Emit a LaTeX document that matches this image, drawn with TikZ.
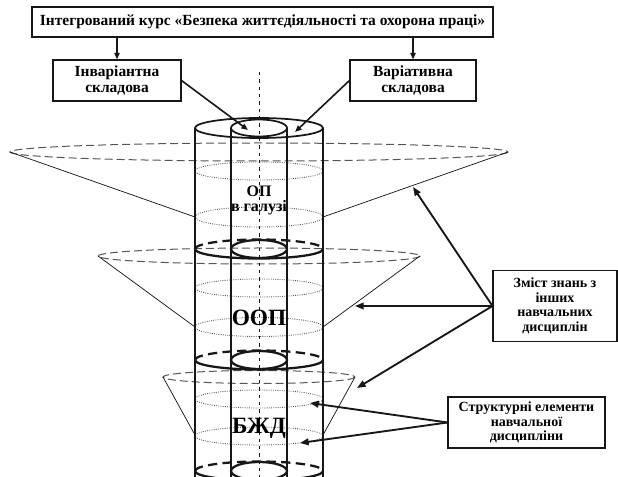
\documentclass[tikz,border=0pt]{standalone}
\usepackage{fontspec}
\setmainfont{Liberation Serif}
\usepackage{tikz}
\usetikzlibrary{arrows.meta, positioning, calc}
\definecolor{mydark}{RGB}{25,22,22}
\definecolor{mygray}{RGB}{85,85,85}
\tikzset{
  topbox/.style={rectangle, draw=mydark, line width=0.8pt, align=center, inner sep=1pt,
    font=\fontsize{11.6}{12.5}\selectfont\bfseries},
  sidebox/.style={rectangle, draw=mydark, line width=0.8pt, align=center, inner sep=1pt,
    font=\fontsize{10.5}{11}\selectfont\bfseries},
  arrow/.style={-{Triangle[length=5pt,width=4pt]}, line width=1.2pt, color=mydark},
  bigarrow/.style={-{Triangle[length=6.5pt,width=5pt]}, line width=1.4pt, color=mydark},
  wall/.style={line width=1.8pt, color=mydark},
  rim/.style={line width=1.3pt, color=mydark},
  divfront/.style={line width=1.7pt, color=mydark},
  divback/.style={line width=1.7pt, color=mydark, dash pattern=on 7pt off 4pt},
  conerim/.style={line width=0.75pt, color=mygray, dash pattern=on 6pt off 3pt},
  coneside/.style={line width=0.55pt, color=mydark},
  level/.style={line width=0.65pt, color=mygray, densely dotted},
  axisline/.style={line width=0.7pt, color=mydark, dash pattern=on 2.5pt off 3pt},
  inlbl/.style={inner sep=0pt, font=\fontsize{12}{14}\selectfont\bfseries},
  biglbl/.style={inner sep=0pt, font=\fontsize{17.5}{20}\selectfont\bfseries}
}

\begin{document}
\begin{tikzpicture}[x=0.75pt, y=-0.75pt]
  \useasboundingbox (0,0) rectangle (618,477);
  % Cones (knowledge from other disciplines)
  \draw[conerim] (259,152) ellipse[x radius=249, y radius=9];
  \draw[coneside] (10,152) -- (195,217) (508,152) -- (323,217);
  \draw[conerim] (259,256) ellipse[x radius=161, y radius=8];
  \draw[coneside] (98,256) -- (195,327) (420,256) -- (323,327);
  \draw[conerim] (259,377) ellipse[x radius=96, y radius=6.5];
  \draw[coneside] (163,377) -- (195,435) (355,377) -- (323,435);
  % Levels inside each section
  \foreach \y/\r in {171/9, 217/10, 288/9, 327/9.5, 399/9, 436/9}
    \draw[level] (259,\y) ellipse[x radius=64, y radius=\r];
  % Axis
  \draw[axisline] (259,72) -- (259,477);
  % Cylinders
  \draw[wall] (195,128) -- (195,477) (323,128) -- (323,477);
  \draw[wall] (231,128) -- (231,477) (287,128) -- (287,477);
  \draw[rim] (259,128) ellipse[x radius=64, y radius=10];
  \draw[rim] (259,128) ellipse[x radius=28, y radius=8.5];
  % Section borders
  \foreach \y in {249, 360, 471} {
    \draw[divback] (195,\y) arc[start angle=180, end angle=360, x radius=64, y radius=9.5];
    \draw[divfront] (195,\y) arc[start angle=180, end angle=0, x radius=64, y radius=9.5];
    \draw[divfront] (259,\y) ellipse[x radius=28, y radius=9];
  }
  % Section names
  \node[inlbl] (opname) at (259,191) {ОП};
  \node[inlbl] (opsub) at (259,208) {в галузі};
  \node[biglbl] (oop) at (259,318) {ООП};
  \node[biglbl] (bzhd) at (259,428) {БЖД};
  % Course and its parts
  \node[topbox, minimum width=345.75pt, minimum height=22.5pt] (course) at (262.5,22)
    {Інтегрований курс «Безпека життєдіяльності та охорона праці»};
  \node[topbox, minimum width=96pt, minimum height=30.75pt] (inv) at (117,80.5)
    {Інваріантна\\складова};
  \node[topbox, minimum width=94.5pt, minimum height=30.75pt] (var) at (413,80.5)
    {Варіативна\\складова};
  \draw[arrow] (inv |- course.south) -- (inv.north);
  \draw[arrow] (var |- course.south) -- (var.north);
  \coordinate (innertop) at (248,130);
  \coordinate (outertop) at (295,132);
  \draw[arrow] (inv.east) -- (innertop);
  \draw[arrow] (var.west) -- (outertop);
  % Labels on the right
  \node[sidebox, minimum width=93pt, minimum height=53.25pt] (zmist) at (555,306)
    {Зміст знань з\\інших\\навчальних\\дисциплін};
  \coordinate (conea) at (413,187);
  \coordinate (coneb) at (355,306);
  \coordinate (conec) at (357,388);
  \draw[bigarrow] (zmist.west) -- (conea);
  \draw[bigarrow] (zmist.west) -- (coneb);
  \draw[bigarrow] (zmist.west) -- (conec);
  \node[sidebox, minimum width=117.75pt, minimum height=38.25pt] (strukt) at (526.5,422.5)
    {Структурні елементи\\навчальної\\дисципліни};
  \coordinate (levelc) at (310,403);
  \coordinate (leveld) at (300,443);
  \draw[bigarrow] (strukt.west) -- (levelc);
  \draw[bigarrow] (strukt.west) -- (leveld);
\end{tikzpicture}
\end{document}
